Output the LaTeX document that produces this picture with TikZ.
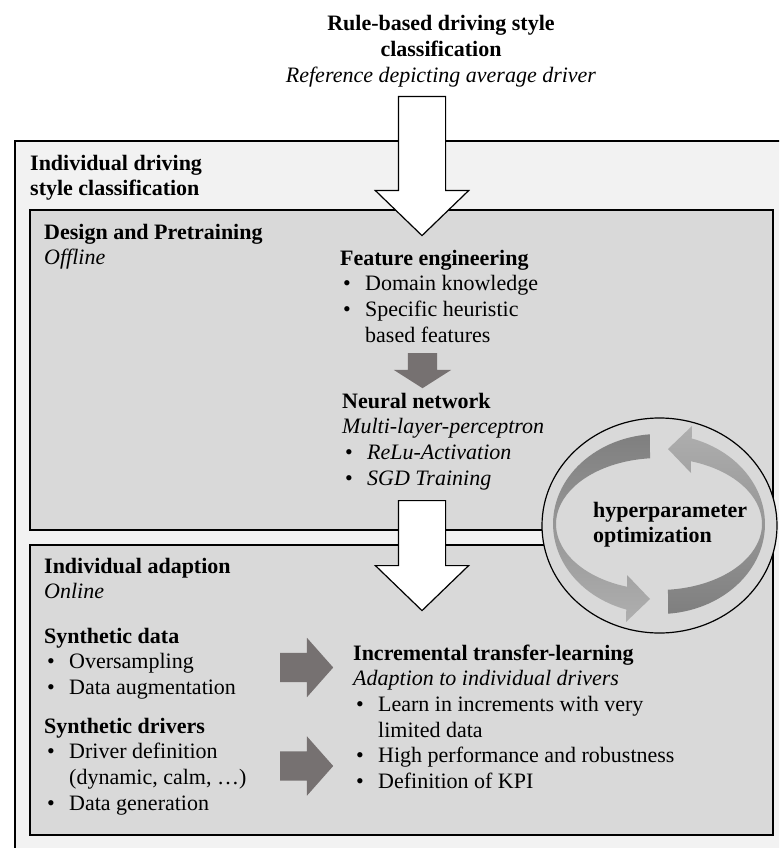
\documentclass[tikz,border=0pt]{standalone}
\usepackage{fontspec}
\setmainfont{Liberation Serif}
\usepackage{xcolor}
\usetikzlibrary{shapes.geometric, shapes.arrows}

\definecolor{boxouter}{HTML}{F2F2F2}
\definecolor{boxinner}{HTML}{D9D9D9}
\definecolor{arrowgray}{HTML}{767171}
\definecolor{ringdark}{HTML}{7F7F7F}
\definecolor{ringlight}{HTML}{AFAFAF}

% bullet line / continuation line / text block
\newcommand{\itm}{\hspace*{3pt}\makebox[22pt][l]{\textbullet}}
\newcommand{\cnt}{\hspace*{25pt}}
\newcommand{\blk}[1]{\begin{tabular}[t]{@{}l@{}}#1\end{tabular}}

\begin{document}
\begin{tikzpicture}[x=1pt, y=-1pt,
  every node/.style={inner sep=0pt, font=\fontsize{22}{25.7}\selectfont},
  txt/.style={anchor=base west},
  panel/.style={draw, line width=1.6pt},
  whitearrow/.style={single arrow, draw, fill=white, line width=1.2pt,
    inner xsep=23pt, inner ysep=0pt, single arrow head extend=23pt,
    single arrow tip angle=92, shape border rotate=270, anchor=tail},
  grayarrow/.style={single arrow, fill=arrowgray, anchor=tail}]

  \useasboundingbox (0,0) rectangle (779,848);
  \clip (0,0) rectangle (779,848);

  % panels
  \draw[panel, fill=boxouter] (15,141) rectangle (795,870);
  \draw[panel, fill=boxinner] (30,210) rectangle (773,530);
  \draw[panel, fill=boxinner] (30,545) rectangle (773,835);

  % top input
  \node[anchor=base] (rule) at (441,31) {\begin{tabular}[t]{@{}c@{}}
    \textbf{Rule-based driving style}\\
    \textbf{classification}\\
    \textit{Reference depicting average driver}\end{tabular}};

  \node[txt] (idsc) at (30,170) {\blk{\textbf{Individual driving}\\
    \textbf{style classification}}};

  % design and pretraining
  \node[txt] (dp) at (44,239) {\blk{\textbf{Design and Pretraining}\\
    \textit{Offline}}};
  \node[txt] (fe) at (340,265) {\blk{\textbf{Feature engineering}\\
    \itm Domain knowledge\\
    \itm Specific heuristic\\
    \cnt based features}};
  \node[txt] (nn) at (342,408) {\blk{\textbf{Neural network}\\
    \textit{Multi-layer-perceptron}\\
    \itm\textit{ReLu-Activation}\\
    \itm\textit{SGD Training}}};

  % individual adaption
  \node[txt] (ia) at (44,573) {\blk{\textbf{Individual adaption}\\
    \textit{Online}}};
  \node[txt] (sd) at (44,643) {\blk{\textbf{Synthetic data}\\
    \itm Oversampling\\
    \itm Data augmentation}};
  \node[txt] (sdr) at (44,733) {\blk{\textbf{Synthetic drivers}\\
    \itm Driver definition\\
    \cnt (dynamic, calm, …)\\
    \itm Data generation}};
  \node[txt] (itl) at (353,660) {\blk{\textbf{Incremental transfer-learning}\\
    \textit{Adaption to individual drivers}\\
    \itm Learn in increments with very\\
    \cnt limited data\\
    \itm High performance and robustness\\
    \itm Definition of KPI}};

  % block arrows
  \node[whitearrow, minimum height=139pt] (in1) at (422,96) {};
  \node[whitearrow, minimum height=110pt] (in2) at (422,500) {};
  \node[grayarrow, inner xsep=14.5pt, inner ysep=0pt, minimum height=35pt,
    single arrow head extend=14pt, single arrow tip angle=115,
    shape border rotate=270] (fe2nn) at (422.5,353) {};
  \node[grayarrow, inner xsep=0pt, inner ysep=14.5pt, minimum height=53pt,
    single arrow head extend=15pt, single arrow tip angle=97] (sd2itl) at (280,667.5) {};
  \node[grayarrow, inner xsep=0pt, inner ysep=14.5pt, minimum height=53pt,
    single arrow head extend=15pt, single arrow tip angle=97] (sdr2itl) at (280,766) {};

  % hyperparameter cycle
  \node[ellipse, draw, fill=boxinner, line width=1.2pt,
    minimum width=235pt, minimum height=215pt] (hpo) at (659.5,525.5) {};
  \path[top color=ringdark, bottom color=ringlight]
    (649.8,434.3) arc[start angle=265, end angle=108, x radius=106, y radius=90]
    -- (626,622) -- (650,599) -- (627,575) -- (627.2,586.8)
    arc[start angle=108, end angle=265, x radius=103, y radius=66] -- cycle;
  \path[top color=ringlight, bottom color=ringdark]
    (668.2,613.7) arc[start angle=85, end angle=-72, x radius=106, y radius=90]
    -- (692,426) -- (668,449) -- (691,473) -- (690.8,461.2)
    arc[start angle=-72, end angle=85, x radius=103, y radius=66] -- cycle;
  \node[txt] (hpotxt) at (593,517) {\blk{\textbf{hyperparameter}\\
    \textbf{optimization}}};
\end{tikzpicture}
\end{document}
